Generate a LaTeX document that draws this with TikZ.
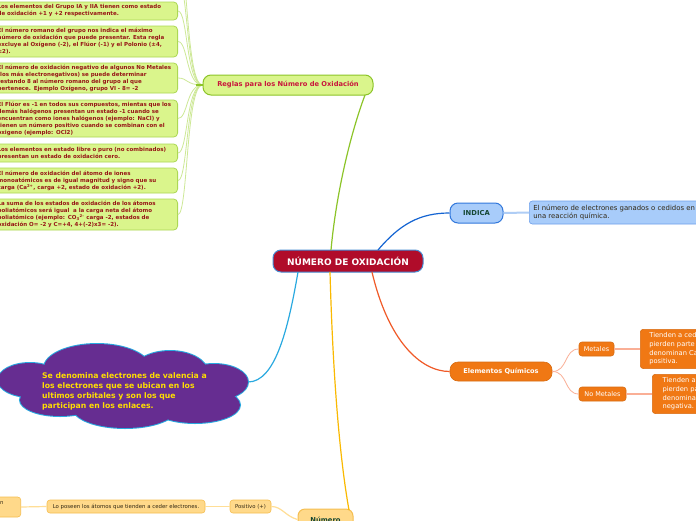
\documentclass[tikz,border=0pt]{standalone}
\usepackage{fontspec}
\setmainfont{DejaVu Sans}
\definecolor{limefill}{RGB}{218,245,140}
\definecolor{limedraw}{RGB}{172,216,84}
\definecolor{limeline}{RGB}{205,232,150}
\definecolor{limedark}{RGB}{140,196,40}
\definecolor{limetext}{RGB}{150,22,22}
\definecolor{reglatext}{RGB}{200,22,60}
\definecolor{crimson}{RGB}{176,12,42}
\definecolor{centraledge}{RGB}{70,140,210}
\definecolor{indfill}{RGB}{168,204,250}
\definecolor{inddraw}{RGB}{50,120,220}
\definecolor{indline}{RGB}{20,100,210}
\definecolor{indlight}{RGB}{175,205,245}
\definecolor{descdraw}{RGB}{110,160,235}
\definecolor{darkgreen}{RGB}{20,70,50}
\definecolor{orangefill}{RGB}{240,120,20}
\definecolor{orangeline}{RGB}{240,90,40}
\definecolor{salmon}{RGB}{250,175,150}
\definecolor{cloudpurple}{RGB}{102,45,145}
\definecolor{cloudblue}{RGB}{41,169,224}
\definecolor{cloudtext}{RGB}{255,222,0}
\definecolor{yelline}{RGB}{250,185,0}
\definecolor{peachfill}{RGB}{255,217,138}
\definecolor{peachdraw}{RGB}{245,190,80}
\definecolor{peachline}{RGB}{255,222,150}
\definecolor{textdark}{RGB}{50,40,20}
\tikzset{
  limebox/.style={draw=limedraw, fill=limefill, rounded corners=4pt, line width=0.8pt,
    font=\bfseries\fontsize{5.5}{7}\selectfont, text=limetext, align=left,
    text width=176pt, inner xsep=4pt, inner ysep=1.5pt, anchor=east},
  limecon/.style={draw=limeline, line width=0.8pt},
  mainbox/.style={rounded corners=8pt, line width=1pt},
  orangebox/.style={fill=orangefill, draw=orangefill!90!black, rounded corners=3pt, text=white, line width=0.6pt},
  peachbox/.style={fill=peachfill, draw=peachdraw, rounded corners=3pt, line width=0.6pt, text=textdark},
}
\begin{document}
\begin{tikzpicture}[x=1pt,y=-1pt]
\useasboundingbox (0,0) rectangle (696,520);
\clip (0,0) rectangle (696,520);
\fill[white] (0,0) rectangle (696,520);

% ---------- lime rule nodes ----------
\node[limebox, minimum height=18pt] (r1) at (178,11) {Los elementos del Grupo IA y IIA tienen como estado\\de oxidación +1 y +2 respectivamente.};
\node[limebox, minimum height=31pt] (r2) at (178,41.5) {El número romano del grupo nos indica el máximo\\número de oxidación que puede presentar. Esta regla\\excluye al Oxígeno (-2), el Flúor (-1) y el Polonio (±4,\\±2).};
\node[limebox, minimum height=30pt] (r3) at (178,78) {El número de oxidación negativo de algunos No Metales\\(los más electronegativos) se puede determinar\\restando 8 al número romano del grupo al que\\pertenece. Ejemplo Oxígeno, grupo VI - 8= -2};
\node[limebox, minimum height=37pt] (r4) at (178,118.5) {El Flúor es -1 en todos sus compuestos, mientas que los\\demás halógenos presentan un estado -1 cuando se\\encuentran como iones halógenos (ejemplo: NaCl) y\\tienen un número positivo cuando se combinan con el\\oxigeno (ejemplo: OCl2)};
\node[limebox, minimum height=18pt] (r5) at (178,153) {Los elementos en estado libre o puro (no combinados)\\presentan un estado de oxidación cero.};
\node[limebox, minimum height=25pt] (r6) at (178,180.5) {El número de oxidación del átomo de iones\\monoatómicos es de igual magnitud y signo que su\\carga (Ca\textsuperscript{2+}, carga +2, estado de oxidación +2).};
\node[limebox, minimum height=31pt] (r7) at (178,214.5) {La suma de los estados de oxidación de los átomos\\poliatómicos será igual\ \ a la carga neta del átomo\\poliatómico (ejemplo: CO\textsubscript{3}\textsuperscript{2-} carga -2, estados de\\oxidación O= -2 y C=+4, 4+(-2)x3= -2).};
\coordinate (up1) at (178,-20);
\coordinate (up2) at (178,-45);

% ---------- Reglas ----------
\node[mainbox, draw=limedark, fill=limefill, minimum width=170pt, minimum height=20pt,
  font=\bfseries\fontsize{6.7}{8}\selectfont, text=reglatext] (reglas) at (288,85) {Reglas para los Número de Oxidación};
\foreach \n in {r1,r2,r3,r4,r5,r6,r7}{
  \draw[limecon] (\n.east) .. controls +(10,0) and (186,85) .. (reglas.west);
}
\draw[limecon] (up1) .. controls +(10,0) and (186,85) .. (reglas.west);
\draw[limecon] (up2) .. controls +(10,0) and (186,85) .. (reglas.west);
\draw[draw=limedark, line width=1.2pt] (196,85) -- (reglas.west);

% ---------- central ----------
\node[mainbox, fill=crimson, draw=centraledge, minimum width=150pt, minimum height=22pt,
  font=\bfseries\fontsize{9}{10}\selectfont, text=white] (center) at (348,261) {NÚMERO DE OXIDACIÓN};

\draw[draw=limedark, line width=1.2pt] (365,95) .. controls (350,135) and (336,195) .. (331,250);

% ---------- INDICA ----------
\node[mainbox, fill=indfill, draw=inddraw, minimum width=53pt, minimum height=20pt,
  font=\bfseries\fontsize{6.8}{8}\selectfont, text=darkgreen] (indica) at (476.5,213) {INDICA};
\node[fill=indfill, draw=descdraw, rounded corners=3pt, line width=0.6pt, anchor=west,
  minimum height=23pt, align=left, font=\fontsize{6.9}{8}\selectfont, text=textdark,
  inner xsep=4pt] (inddesc) at (529,212.5) {El número de electrones ganados o cedidos en\\una reacción química.\hspace*{95pt}};
\draw[draw=indline, line width=1.2pt] (378,250) .. controls (400,224) and (420,213) .. (indica.west);
\draw[draw=indlight, line width=2pt] (indica.east) -- (inddesc.west);

% ---------- Elementos Quimicos ----------
\node[orangebox, rounded corners=8pt, minimum width=102pt, minimum height=19pt,
  font=\bfseries\fontsize{6.6}{8}\selectfont] (elem) at (501,371.5) {Elementos Químicos};
\draw[draw=orangeline, line width=1.2pt] (372,272) .. controls (388,340) and (420,371.5) .. (elem.west);
\node[orangebox, minimum width=35pt, minimum height=14pt, inner sep=1pt,
  font=\fontsize{6.5}{7}\selectfont] (met) at (596.5,349) {Metales};
\node[orangebox, minimum width=47pt, minimum height=14pt, inner sep=1pt,
  font=\fontsize{6.5}{7}\selectfont] (nomet) at (602.5,394) {No Metales};
\node[orangebox, anchor=north west, minimum height=39pt, minimum width=70pt, align=left,
  inner xsep=5pt, font=\fontsize{6.7}{8.7}\selectfont] (metdesc) at (640,329) {Tienden a cede\\pierden parte d\\denominan Cat\\positiva.};
\node[orangebox, anchor=north west, minimum height=39pt, minimum width=60pt, align=left,
  inner xsep=5pt, font=\fontsize{6.7}{8.7}\selectfont] (nometdesc) at (652,374) {Tienden a g\\pierden par\\denominan\\negativa.};
\draw[draw=salmon, line width=0.8pt] (elem.east) .. controls (568,371.5) and (564,349) .. (met.west);
\draw[draw=salmon, line width=0.8pt] (elem.east) .. controls (568,371.5) and (564,394) .. (nomet.west);
\draw[draw=salmon, line width=1.2pt] (met.east) -- (met.east -| metdesc.west);
\draw[draw=salmon, line width=1.2pt] (nomet.east) -- (nomet.east -| nometdesc.west);

% ---------- cloud (union of ellipses, outline by wide stroke under fill) ----------
\def\cloudshape{%
  (125,388) ellipse [x radius=100, y radius=30]
  (97,368) ellipse [x radius=53, y radius=24]
  (170,373) ellipse [x radius=38, y radius=22]
  (214,382) ellipse [x radius=34, y radius=18]
  (195,405) ellipse [x radius=45, y radius=18]
  (125,408) ellipse [x radius=52, y radius=20]
  (60,400) ellipse [x radius=40, y radius=16]
  (30,380) ellipse [x radius=32, y radius=17]}
\draw[cloudblue, line width=2pt] \cloudshape;
\fill[cloudpurple] \cloudshape;
\coordinate (cloudE) at (248,382);
\node[anchor=north west, align=left, inner sep=0pt, font=\bfseries\fontsize{7.7}{10}\selectfont,
  text=cloudtext] (cloudtxt) at (42,372) {Se denomina electrones de valencia a\\los electrones que se ubican en los\\ultimos orbitales y son los que\\participan en los enlaces.};
\draw[draw=cloudblue, line width=1.2pt] (298,272) .. controls (288,330) and (275,382) .. (cloudE);

% ---------- Numero ----------
\node[peachbox, rounded corners=7pt, minimum width=55pt, minimum height=21pt, line width=1pt,
  font=\bfseries\fontsize{6.8}{8}\selectfont, text=darkgreen] (numero) at (325.5,519.5) {Número};
\draw[draw=yelline, line width=1.2pt] (330,272) .. controls (333,380) and (340,460) .. (349,510);
\node[peachbox, minimum width=41pt, minimum height=13pt, inner sep=1pt,
  font=\fontsize{5.3}{6}\selectfont] (pos) at (250.5,506.5) {Positivo (+)};
\node[peachbox, minimum width=158pt, minimum height=13pt, inner sep=1pt,
  font=\fontsize{5.4}{6}\selectfont] (poseen) at (126,506.5) {Lo poseen los átomos que tienden a ceder electrones.};
\node[peachbox, anchor=east, minimum width=80pt, minimum height=20pt] (leftbox) at (21,507) {};
\node[anchor=west, inner sep=0pt, font=\fontsize{5.3}{6}\selectfont, text=textdark] (leftn) at (0,503.5) {n};
\draw[draw=peachline, line width=1.2pt] (numero.west) .. controls (285,516) and (282,506.5) .. (pos.east);
\draw[draw=peachline, line width=1.2pt] (pos.west) -- (poseen.east);
\draw[draw=peachline, line width=1.2pt] (poseen.west) -- (leftbox.east);
\end{tikzpicture}
\end{document}
